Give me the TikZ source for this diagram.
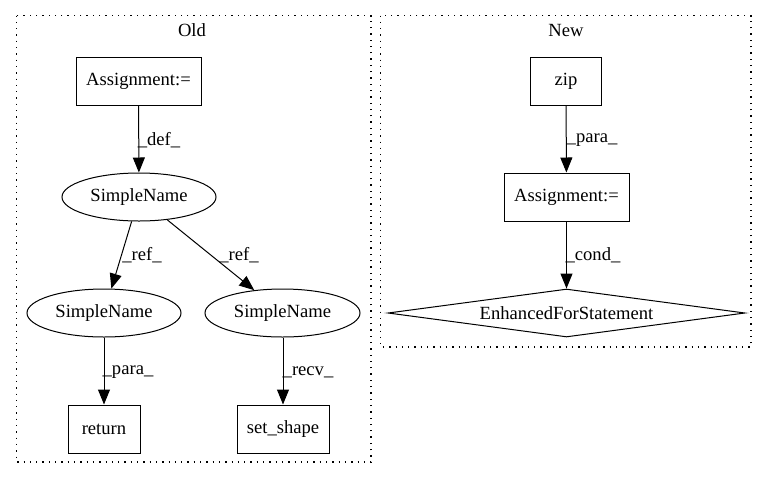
\documentclass[tikz,border=0pt]{standalone}
\usepackage{fontspec}
\setmainfont{Liberation Serif}
\usetikzlibrary{arrows.meta,shapes.geometric}
\tikzset{
  base/.style={draw, line width=1pt, inner sep=0pt, font=\fontsize{18.6}{22}\selectfont},
  boxnode/.style={base, rectangle, minimum height=48pt},
  ellnode/.style={base, ellipse, minimum width=154pt, minimum height=48pt},
  dianode/.style={base, diamond, shape aspect=7.44, minimum width=357pt, minimum height=48pt},
  cluster/.style={line width=1.2pt, dash pattern=on 1.3pt off 5pt},
  conn/.style={line width=1pt, -{Triangle[length=15pt 0,width=12pt 0]}},
  lbl/.style={inner sep=0pt, font=\fontsize{18.6}{22}\selectfont},
}
\begin{document}
\begin{tikzpicture}[x=1pt,y=-1pt]
\useasboundingbox (0,0) rectangle (768,480);
\fill[white] (0,0) rectangle (768,480);
% clusters
\draw[cluster] (16.5,15.5) rectangle (371,462);
\draw[cluster] (380.5,15.5) rectangle (751,347);
\node[lbl] (oldlbl) at (192,30) {Old};
\node[lbl] (newlbl) at (566,30) {New};
% Old nodes
\node[boxnode, minimum width=125pt] (a1) at (138.5,81) {Assignment:=};
\node[ellnode] (s1) at (139,197) {SimpleName};
\node[ellnode] (s2) at (104,313) {SimpleName};
\node[ellnode, minimum width=155pt] (s3) at (282.5,313) {SimpleName};
\node[boxnode, minimum width=72pt] (ret) at (104,429) {return};
\node[boxnode, minimum width=92pt] (ss) at (283,429) {set\_shape};
% New nodes
\node[boxnode, minimum width=71pt] (zip) at (566,81) {zip};
\node[boxnode, minimum width=125pt] (a2) at (566.5,197) {Assignment:=};
\node[dianode] (efs) at (566.5,313) {EnhancedForStatement};
% edges
\draw[conn] (a1) -- (s1);
\draw[conn] (s1) -- (s2);
\draw[conn] (s1) -- (s3);
\draw[conn] (s2) -- (ret);
\draw[conn] (s3.south -| ss) -- (ss);
\draw[conn] (zip) -- (a2);
\draw[conn] (a2) -- (efs);
% edge labels
\node[lbl] (l1) at (159,140) {\_def\_};
\node[lbl] (l2) at (142,255) {\_ref\_};
\node[lbl] (l3) at (239,255) {\_ref\_};
\node[lbl] (l4) at (128,372) {\_para\_};
\node[lbl] (l5) at (308,372) {\_recv\_};
\node[lbl] (l6) at (592,140) {\_para\_};
\node[lbl] (l7) at (593,255) {\_cond\_};
\end{tikzpicture}
\end{document}
